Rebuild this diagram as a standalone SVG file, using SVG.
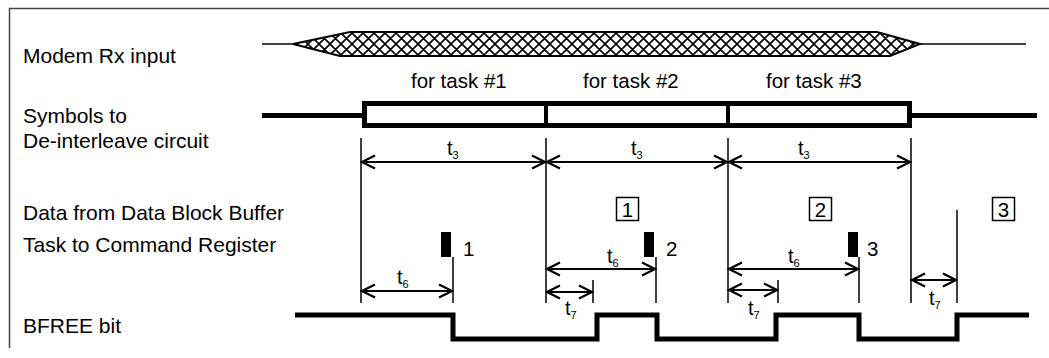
<svg xmlns="http://www.w3.org/2000/svg" width="1049" height="358" viewBox="0 0 1049 358">
<style>
text{font-family:"Liberation Sans",Arial,sans-serif;fill:#000}
.lbl{font-size:20.5px}
.side{font-size:21px}
.t{font-size:20px}
.sub{font-size:11px}
.thin{stroke:#000;stroke-width:1.5;fill:none}
.thick{stroke:#000;stroke-width:5;fill:none}
.arr{stroke:#000;stroke-width:2;fill:none;marker-start:url(#ah);marker-end:url(#ah)}
.box{stroke:#000;stroke-width:1.5;fill:none}
</style>
<defs>
<marker id="ah" viewBox="-15 -8 17 16" markerWidth="17" markerHeight="16" refX="0" refY="0" orient="auto-start-reverse" markerUnits="userSpaceOnUse">
<path d="M-13,-6.5 L0,0 L-13,6.5" fill="none" stroke="#000" stroke-width="2.2"/>
</marker>
<pattern id="hatch" patternUnits="userSpaceOnUse" width="11" height="11">
<path d="M0,0 L11,11 M0,11 L11,0 M-1,1 L1,-1 M10,12 L12,10 M-1,10 L1,12 M10,-1 L12,1" stroke="#000" stroke-width="1.6"/>
</pattern>
</defs>
<g id="frame">
<line x1="9" y1="8.5" x2="1049" y2="8.5" stroke="#444" stroke-width="1.5"/>
<line x1="9.5" y1="8" x2="9.5" y2="348" stroke="#444" stroke-width="1.5"/>
</g>
<g id="labels">
<text class="side" x="23" y="63">Modem Rx input</text>
<text class="side" x="23" y="123">Symbols to</text>
<text class="side" x="23" y="148">De-interleave circuit</text>
<text class="side" x="23" y="220">Data from Data Block Buffer</text>
<text class="side" x="23" y="252">Task to Command Register</text>
<text class="side" x="23" y="333">BFREE bit</text>
</g>
<g id="modem-rx">
<line class="thin" x1="262" y1="44" x2="293" y2="44"/>
<path d="M293,44 L350,32 L877,32 L920,44 L890,56 L340,56 Z" fill="url(#hatch)" stroke="#000" stroke-width="2"/>
<line class="thin" x1="920" y1="44" x2="1026" y2="44"/>
</g>
<g id="symbols">
<line class="thick" x1="262" y1="115.5" x2="364" y2="115.5"/>
<rect x="364.5" y="103.5" width="545" height="22" fill="none" stroke="#000" stroke-width="5"/>
<line x1="546" y1="103" x2="546" y2="126" stroke="#000" stroke-width="4"/>
<line x1="728" y1="103" x2="728" y2="126" stroke="#000" stroke-width="4"/>
<line class="thick" x1="909" y1="115.5" x2="1037" y2="115.5"/>
<text class="lbl" x="411" y="88">for task #1</text>
<text class="lbl" x="583" y="88">for task #2</text>
<text class="lbl" x="766" y="88">for task #3</text>
</g>
<g id="data-blocks">
<rect class="box" x="616.5" y="197.5" width="22" height="23"/>
<text class="lbl" x="627.5" y="217" text-anchor="middle">1</text>
<rect class="box" x="809.5" y="197.5" width="22" height="23"/>
<text class="lbl" x="820.5" y="217" text-anchor="middle">2</text>
<rect class="box" x="992.5" y="197.5" width="22" height="23"/>
<text class="lbl" x="1003.5" y="217" text-anchor="middle">3</text>
</g>
<g id="tasks">
<rect x="441" y="232" width="10" height="25" fill="#000"/>
<text class="lbl" x="463" y="256">1</text>
<rect x="644" y="232" width="10" height="25" fill="#000"/>
<text class="lbl" x="666" y="256">2</text>
<rect x="848" y="232" width="10" height="25" fill="#000"/>
<text class="lbl" x="867" y="256">3</text>
</g>
<g id="bfree">
<path class="thick" d="M295,315 H453 V339 H597 V315 H657 V339 H776 V315 H859 V339 H957 V315 H1029"/>
</g>
<g id="connectors">
<line class="thin" x1="361" y1="138" x2="361" y2="303"/>
<line class="thin" x1="546" y1="138" x2="546" y2="303"/>
<line class="thin" x1="728" y1="138" x2="728" y2="303"/>
<line class="thin" x1="911" y1="138" x2="911" y2="303"/>
<line class="thin" x1="453" y1="257" x2="453" y2="303"/>
<line class="thin" x1="656" y1="257" x2="656" y2="303"/>
<line class="thin" x1="859" y1="257" x2="859" y2="303"/>
<line class="thin" x1="593" y1="280" x2="593" y2="303"/>
<line class="thin" x1="778" y1="280" x2="778" y2="303"/>
<line class="thin" x1="957" y1="210" x2="957" y2="303"/>
<line class="arr" x1="362" y1="162" x2="545" y2="162"/>
<line class="arr" x1="547" y1="162" x2="727" y2="162"/>
<line class="arr" x1="729" y1="162" x2="910" y2="162"/>
<line class="arr" x1="362" y1="291" x2="452" y2="291"/>
<line class="arr" x1="547" y1="269" x2="655" y2="269"/>
<line class="arr" x1="729" y1="269" x2="858" y2="269"/>
<line class="arr" x1="547" y1="292" x2="592" y2="292"/>
<line class="arr" x1="729" y1="290" x2="777" y2="290"/>
<line class="arr" x1="912" y1="280" x2="956" y2="280"/>
</g>
<g id="timing-labels">
<text class="t" x="447" y="155">t<tspan class="sub" dy="4">3</tspan></text>
<text class="t" x="631" y="155">t<tspan class="sub" dy="4">3</tspan></text>
<text class="t" x="798" y="155">t<tspan class="sub" dy="4">3</tspan></text>
<text class="t" x="397" y="284">t<tspan class="sub" dy="4">6</tspan></text>
<text class="t" x="607" y="263">t<tspan class="sub" dy="4">6</tspan></text>
<text class="t" x="788" y="263">t<tspan class="sub" dy="4">6</tspan></text>
<text class="t" x="565" y="315">t<tspan class="sub" dy="4">7</tspan></text>
<text class="t" x="748" y="315">t<tspan class="sub" dy="4">7</tspan></text>
<text class="t" x="929" y="305">t<tspan class="sub" dy="4">7</tspan></text>
</g>
</svg>
